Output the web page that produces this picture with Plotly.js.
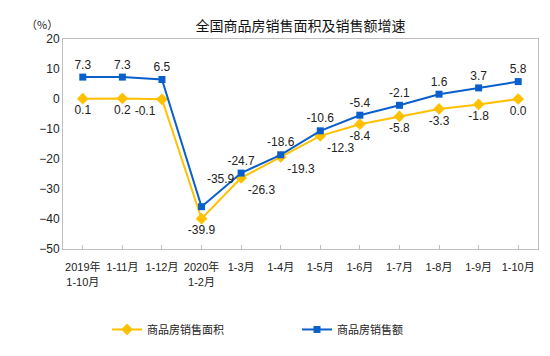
<!DOCTYPE html>
<html>
<head>
<meta charset="utf-8">
<script src="https://cdn.plot.ly/plotly-3.0.1.min.js"></script>
<style>html,body{margin:0;padding:0;background:#fff;}#chart{width:550px;height:356px;}</style>
</head>
<body>
<div id="chart"></div>
<script>
const categories = ["2019年<br>1-10月","1-11月","1-12月","2020年<br>1-2月","1-3月","1-4月","1-5月","1-6月","1-7月","1-8月","1-9月","1-10月"];
const areaGrowth = [0.1, 0.2, -0.1, -39.9, -26.3, -19.3, -12.3, -8.4, -5.8, -3.3, -1.8, 0.0];
const amountGrowth = [7.3, 7.3, 6.5, -35.9, -24.7, -18.6, -10.6, -5.4, -2.1, 1.6, 3.7, 5.8];
const seriesNames = ["商品房销售面积", "商品房销售额"];

const font = "Liberation Sans, Arial, Noto Sans CJK SC, sans-serif";
const xIdx = categories.map((_, i) => i);

const areaPos = areaGrowth.map((_, i) => (i >= 4 && i <= 6) ? "bottom right" : (i === 2 ? "bottom left" : "bottom center"));
const amountPos = amountGrowth.map((_, i) => i === 3 ? "top right" : "top center");
const amountText = amountGrowth.map((v, i) => i === 3 ? v.toFixed(1) + "<br>\u00a0" : v.toFixed(1));

const traces = [
  {
    x: xIdx, y: areaGrowth, name: seriesNames[0], type: "scatter", mode: "lines+markers+text",
    line: {color: "#ffc000", width: 2},
    marker: {symbol: "diamond", size: 9, color: "#ffc000"},
    text: areaGrowth.map(v => v.toFixed(1)), textposition: areaPos,
    textfont: {family: font, size: 12, color: "#222"}
  },
  {
    x: xIdx, y: amountGrowth, name: seriesNames[1], type: "scatter", mode: "lines+markers+text",
    line: {color: "#0b5fcb", width: 2},
    marker: {symbol: "square", size: 7, color: "#0b5fcb"},
    text: amountText, textposition: amountPos,
    textfont: {family: font, size: 12, color: "#222"}
  }
];

const layout = {
  width: 550, height: 356,
  margin: {l: 63, r: 12, t: 39, b: 103},
  paper_bgcolor: "#fff", plot_bgcolor: "#fff",
  font: {family: font, color: "#222"},
  title: {text: "全国商品房销售面积及销售额增速", x: 0.5, xref: "paper", y: 1 - 26/356, yanchor: "middle",
          font: {family: "Noto Sans CJK SC, sans-serif", size: 14, color: "#111"}},
  xaxis: {
    range: [-0.5, 11.5], tickmode: "array", tickvals: xIdx, ticktext: categories,
    tickson: "boundaries", ticks: "inside", ticklen: 4, tickcolor: "#bfbfbf",
    ticklabelstandoff: 8,
    showline: true, linecolor: "#bfbfbf", mirror: true, showgrid: false, zeroline: false,
    tickfont: {family: "Liberation Sans, Noto Sans CJK SC, sans-serif", size: 11, color: "#222"}, tickangle: 0
  },
  yaxis: {
    range: [-50, 20], dtick: 10, showgrid: false, zeroline: false,
    showline: true, linecolor: "#bfbfbf", mirror: true, ticks: "",
    tickfont: {family: font, size: 12, color: "#222"}
  },
  showlegend: true,
  legend: {orientation: "h", x: (107-63)/475, xanchor: "left", y: (253-335)/214, yanchor: "middle",
           entrywidth: 145, entrywidthmode: "pixels",
           font: {family: "Noto Sans CJK SC, sans-serif", size: 11, color: "#222"}},
  annotations: [
    {text: "（%）", xref: "paper", yref: "paper", x: (24-63)/475, y: (253-14)/214, showarrow: false,
     font: {family: "Noto Sans CJK SC, sans-serif", size: 11, color: "#222"}}
  ]
};

Plotly.newPlot("chart", traces, layout, {displayModeBar: false, staticPlot: true});
</script>
</body>
</html>
